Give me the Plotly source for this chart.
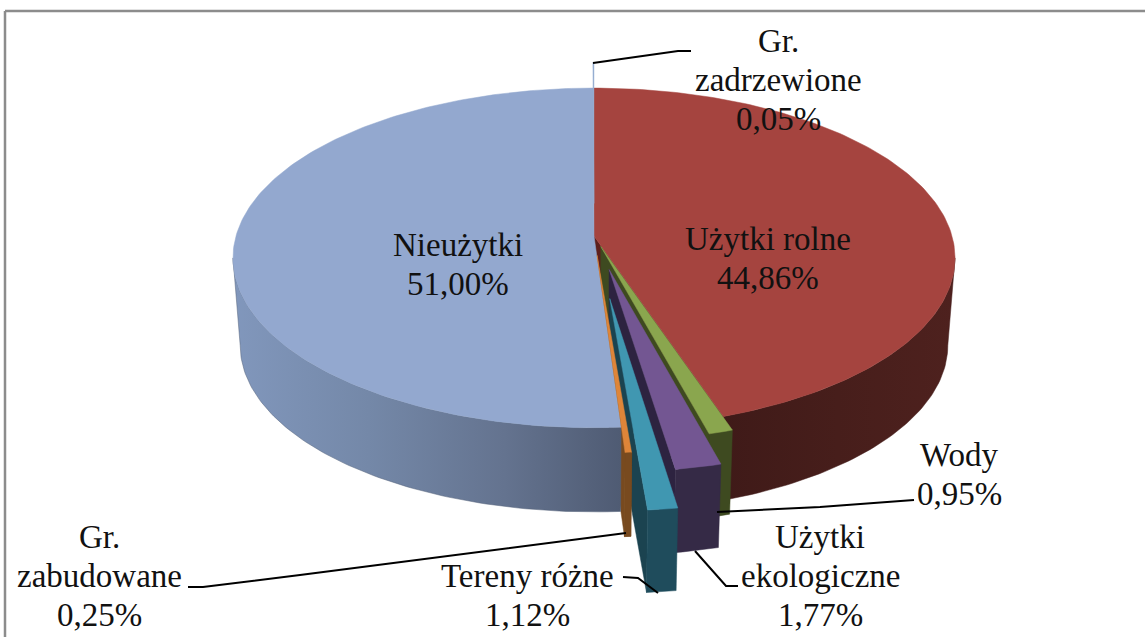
import numpy as np
import plotly.graph_objects as go

# ---- data ----
categories = ["Użytki rolne", "Wody", "Użytki ekologiczne", "Tereny różne",
              "Gr. zabudowane", "Nieużytki", "Gr. zadrzewione"]
values = [44.86, 0.95, 1.77, 1.12, 0.25, 51.00, 0.05]
explosion = [0.0, 0.065, 0.20, 0.36, 0.115, 0.0, 0.20]
top_colors = ["#A5443F", "#8AA64E", "#735692", "#4097B1", "#DE8539", "#93A8CF", "#8FA8CE"]
wall_colors = ["#451D1A", "#3E4A20", "#352A46", "#1F4C5C", "#784A1F", "#55627A", "#55627A"]
face_colors = ["#5E1F1C", "#3E4A20", "#2D2340", "#1B4350", "#784A1F", "#55627A", "#55627A"]
label_lines = {
    "Użytki rolne": ["Użytki rolne", "44,86%"],
    "Wody": ["Wody", "0,95%"],
    "Użytki ekologiczne": ["Użytki", "ekologiczne", "1,77%"],
    "Tereny różne": ["Tereny różne", "1,12%"],
    "Gr. zabudowane": ["Gr.", "zabudowane", "0,25%"],
    "Nieużytki": ["Nieużytki", "51,00%"],
    "Gr. zadrzewione": ["Gr.", "zadrzewione", "0,05%"],
}

# ---- layout constants (pixels) ----
W, H = 1145, 637
CX, CY = 594.0, 236.0
RX, RY, K = 358.0, 167.0, 0.129
BOTTOM_F, BOTTOM_DY = 0.98, 88.0
LINE_GAP = 39.0
label_pos = {
    "Użytki rolne": (768, 258), "Wody": (959, 474), "Użytki ekologiczne": (820, 576),
    "Tereny różne": (527, 595), "Gr. zabudowane": (99, 576), "Nieużytki": (458, 264),
    "Gr. zadrzewione": (778, 80),
}
leaders = [
    [(593, 63), (678, 51), (691, 51)],
    [(717, 512), (820, 507), (914, 500)],
    [(695, 551), (726, 586), (738, 586)],
    [(658, 593), (638, 578), (623, 577)],
    [(188, 587), (203, 587), (300, 575), (626, 533)],
]


def proj(u, v, bottom=False):
    """Perspective projection of a point of the unit pie plane."""
    s = 1.0 / (1.0 + K * v)
    x, y = RX * u * s, -RY * v * s
    if bottom:
        return CX + x * BOTTOM_F, CY + y * BOTTOM_F + BOTTOM_DY
    return CX + x, CY + y


def poly(fig, xs, ys, color, gradient=None):
    kw = dict(x=list(xs) + [xs[0]], y=list(ys) + [ys[0]], mode="lines", fill="toself",
              line=dict(width=0.5, color=color), hoverinfo="skip", showlegend=False)
    if gradient:
        kw["fillgradient"] = dict(type="horizontal", colorscale=gradient)
    else:
        kw["fillcolor"] = color
    fig.add_trace(go.Scatter(**kw))


fig = go.Figure()
edges = np.cumsum([0.0] + values) / sum(values) * 2 * np.pi
# the circle's silhouette under perspective lies slightly in front of the equator
front_lo, front_hi = np.pi / 2 + np.arcsin(K), 3 * np.pi / 2 - np.arcsin(K)


def sector_geometry(i):
    a0, a1 = edges[i], edges[i + 1]
    mid = (a0 + a1) / 2
    ox, oy = explosion[i] * np.sin(mid), explosion[i] * np.cos(mid)
    t = np.linspace(a0, a1, max(4, int((a1 - a0) * 60)))
    return a0, a1, ox, oy, t


def draw_wall(i):
    a0, a1, ox, oy, t = sector_geometry(i)
    lo, hi = max(a0, front_lo), min(a1, front_hi)
    if lo >= hi:
        return
    front = np.linspace(lo, hi, max(4, int((hi - lo) * 60)))
    fu, fv = ox + np.sin(front), oy + np.cos(front)
    tx, ty = proj(fu, fv)
    bx, by = proj(fu, fv, True)
    xs = np.r_[tx, bx[::-1]]
    ys = np.r_[ty, by[::-1]]
    if i == 5:
        poly(fig, xs, ys, wall_colors[i],
             [[0, "#8197BC"], [0.35, "#7488A8"], [0.7, "#64738F"], [1, "#4F5B73"]])
    elif i == 0:
        poly(fig, xs, ys, wall_colors[i],
             [[0, "#3F1A18"], [0.5, "#471E1B"], [1, "#4E211E"]])
    else:
        poly(fig, xs, ys, wall_colors[i])


def draw_face(i):
    a0, a1, ox, oy, t = sector_geometry(i)
    ax, ay = proj(ox, oy)
    abx, aby = proj(ox, oy, True)
    ex, ey = proj(ox + np.sin(a1), oy + np.cos(a1))
    ebx, eby = proj(ox + np.sin(a1), oy + np.cos(a1), True)
    poly(fig, [ax, ex, ebx, abx], [ay, ey, eby, aby], face_colors[i])


def draw_top(i):
    a0, a1, ox, oy, t = sector_geometry(i)
    px, py = proj(ox + np.sin(t), oy + np.cos(t))
    ax, ay = proj(ox, oy)
    poly(fig, np.r_[ax, px], np.r_[ay, py], top_colors[i])


# back to front: hidden faces of the exploded sectors go behind the big blue sector
draw_wall(0)
draw_face(0)
draw_top(0)
for i in (1, 2, 3, 4):
    draw_face(i)
    draw_wall(i)
draw_wall(5)
draw_top(5)
draw_top(6)
for i in (1, 2, 3, 4):
    draw_top(i)
draw_wall(4)

# leader lines
for pts in leaders:
    fig.add_trace(go.Scatter(x=[p[0] for p in pts], y=[p[1] for p in pts], mode="lines",
                             line=dict(color="black", width=2), hoverinfo="skip",
                             showlegend=False))

annotations = []
for c in categories:
    lines = label_lines[c]
    x0, yc = label_pos[c]
    for j, line in enumerate(lines):
        annotations.append(dict(
            x=x0, y=yc + (j - (len(lines) - 1) / 2) * LINE_GAP, text=line, showarrow=False,
            xanchor="center", yanchor="middle", xref="x", yref="y",
            font=dict(family="Liberation Serif", size=33, color="#111111")))

shapes = [
    dict(type="line", xref="x", yref="y", x0=5, x1=1145, y0=11, y1=11,
         line=dict(color="#8C8C8C", width=2.5)),
    dict(type="line", xref="x", yref="y", x0=5, x1=5, y0=11, y1=637,
         line=dict(color="#8C8C8C", width=2.5)),
]

fig.update_layout(
    width=W, height=H, margin=dict(l=0, r=0, t=0, b=0),
    paper_bgcolor="white", plot_bgcolor="white", showlegend=False,
    xaxis=dict(range=[0, W], visible=False, fixedrange=True),
    yaxis=dict(range=[H, 0], visible=False, fixedrange=True),
    annotations=annotations, shapes=shapes,
)
fig.write_html("out.html", config={"displayModeBar": False},
               post_script="document.body.style.margin='0';document.body.style.overflow='hidden';")
